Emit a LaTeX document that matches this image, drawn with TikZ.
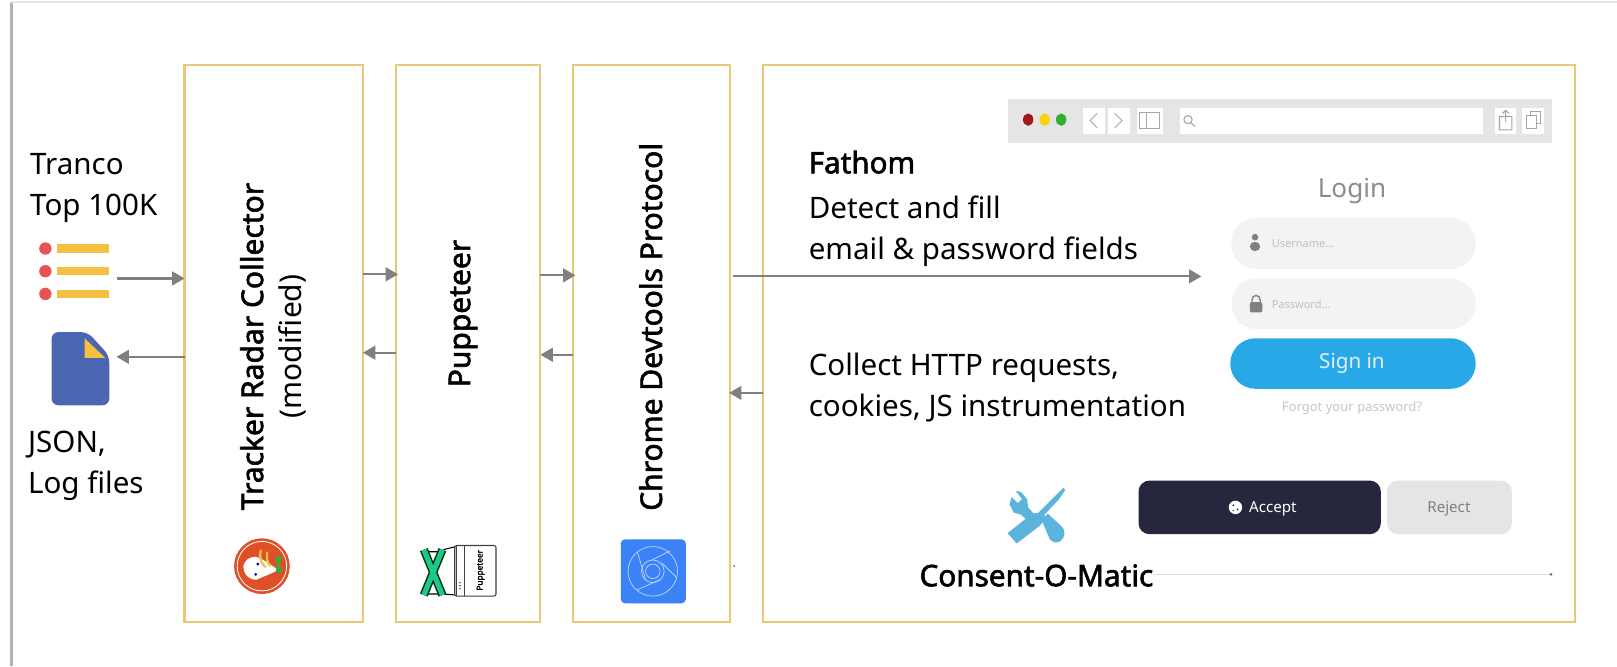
\documentclass[tikz,border=0pt]{standalone}
\usepackage{fontspec}
\setmainfont{Noto Sans}[AutoFakeBold=2]
\usetikzlibrary{arrows.meta,calc}
\definecolor{boxgold}{HTML}{E9C877}
\definecolor{arrowgrey}{HTML}{808080}
\definecolor{barred}{HTML}{E85252}
\definecolor{baryellow}{HTML}{F4C142}
\definecolor{fileblue}{HTML}{4A66B0}
\definecolor{signblue}{HTML}{29A8E8}
\definecolor{navybtn}{HTML}{26273F}
\definecolor{toolblue}{HTML}{5AB4DC}
\definecolor{pillgrey}{HTML}{F3F3F3}
\definecolor{chromeblue}{HTML}{3B82F6}
\definecolor{duckred}{HTML}{DE5028}
\definecolor{pupgreen}{HTML}{1FC790}
\tikzset{
  x=0.75pt,y=-0.75pt,
  stage/.style={draw=boxgold,line width=1.6pt,fill=white,inner sep=0pt,outer sep=0pt},
  flow/.style={draw=arrowgrey,line width=1.6pt,-{Triangle[length=9pt,width=10pt]}},
  body/.style={font=\fontsize{21.5}{30}\selectfont,align=left,inner sep=0pt,anchor=base west,text=black},
  vtitle/.style={font=\fontsize{21.8}{28}\selectfont,rotate=90,align=center,inner sep=0pt},
  pill/.style={rounded corners=24.5*0.75pt,inner sep=0pt,outer sep=0pt},
  btn/.style={rounded corners=8pt,inner sep=0pt,outer sep=0pt},
  uitext/.style={inner sep=0pt},
}
\newcommand{\boxat}[5]{\node[#5,minimum width=#3*0.75pt-#1*0.75pt,minimum height=#4*0.75pt-#2*0.75pt,anchor=north west] at (#1,#2)}
\begin{document}
\begin{tikzpicture}
\useasboundingbox (0,0) rectangle (1568,646);
\fill[white] (0,0) rectangle (1568,646);
% card edge
\fill[black!30] (10,2) rectangle (13,646);
\fill[black!10] (10,1) rectangle (1568,3);

% stages
\boxat{179}{63}{352}{603}{stage} (tracker) {};
\boxat{384}{63}{524}{603}{stage} (pup) {};
\boxat{556}{63}{708}{603}{stage} (cdp) {};
\boxat{740}{63}{1527}{603}{stage} (page) {};

% browser mock-up
\boxat{977}{96}{1505}{138}{fill=black!10,inner sep=0pt} (bar) {};
\boxat{1144}{104}{1438}{130}{fill=white,inner sep=0pt} (addr) {};
\boxat{1050}{104}{1071}{130}{fill=white,inner sep=0pt} (back) {};
\boxat{1074}{104}{1095}{130}{fill=white,inner sep=0pt} (fwd) {};
\boxat{1102}{104}{1127}{130}{fill=white,inner sep=0pt} (side) {};
\boxat{1449}{104}{1470}{130}{fill=white,inner sep=0pt} (share) {};
\boxat{1476}{104}{1497}{130}{fill=white,inner sep=0pt} (tabs) {};
\fill[red!60!black!90] (997,116) circle[x radius=5,y radius=6];
\fill[yellow!70!orange] (1013,116) circle[x radius=5,y radius=6];
\fill[green!60!black!80] (1029,116) circle[x radius=5,y radius=6];
\draw[black!30,line width=0.8pt] (1064,110) -- (1057,117) -- (1064,124);
\draw[black!30,line width=0.8pt] (1081,110) -- (1088,117) -- (1081,124);
\draw[black!35,line width=0.8pt] (1105,109) rectangle (1124,125) (1112,109) -- (1112,125);
\draw[black!35,line width=0.8pt] (1152,116) circle (4) (1155,119) -- (1159,123);
\draw[black!35,line width=0.8pt] (1454,113) rectangle (1466,126) (1460,118) -- (1460,107) (1457,110) -- (1460,107) -- (1463,110);
\draw[black!35,line width=0.8pt] (1480,112) rectangle (1490,125) (1484,112) -- (1484,108) -- (1494,108) -- (1494,120) -- (1490,120);

% login form
\node[uitext,text=black!45,font=\fontsize{19}{22}\selectfont] (login) at (1311,185) {Login};
\boxat{1194}{211}{1431}{261}{pill,fill=pillgrey} (user) {};
\boxat{1194}{270}{1431}{319}{pill,fill=pillgrey} (pass) {};
\boxat{1193}{328}{1431}{377}{pill,fill=signblue} (sign) {};
\node[uitext,anchor=west,text=black!25,font=\fontsize{8}{10}\selectfont] (ulabel) at (1233,236) {Username...};
\node[uitext,anchor=west,text=black!25,font=\fontsize{8}{10}\selectfont] (plabel) at (1233,295) {Password...};
\fill[black!50] (1217,230) circle (3.2);
\fill[black!50] (1217,239) circle[x radius=5,y radius=4.5];
\fill[black!50,rounded corners=1pt] (1212,293) rectangle (1224,303);
\draw[black!50,line width=1pt] (1214,293) -- (1214,291) .. controls (1214,285) and (1222,285) .. (1222,291) -- (1222,293);
\node[uitext,text=white!85!signblue,font=\fontsize{15}{18}\selectfont] (signl) at (1311,352) {Sign in};
\node[uitext,text=black!22,font=\fontsize{9.5}{12}\selectfont] (forgot) at (1311,396) {Forgot your password?};

% consent buttons
\boxat{1104}{466}{1339}{518}{btn,fill=navybtn} (accept) {};
\boxat{1345}{466}{1466}{518}{btn,fill=black!10} (reject) {};
\node[uitext,anchor=west,text=white,font=\fontsize{11}{14}\selectfont] (acceptl) at (1211,493) {Accept};
\fill[white] (1198,492) circle (6.5);
\fill[navybtn] (1196,490) circle (1) (1200,494) circle (1) (1196,495) circle (0.8);
\node[uitext,text=black!50,font=\fontsize{11}{14}\selectfont] (rejectl) at (1405,493) {Reject};
\draw[black!12,line width=1pt] (1118,557) -- (1505,557);
\fill[black!55] (1504,557) circle (1.5);
\fill[black!60] (712,549) circle (1);

% tools icon
\begin{scope}[toolblue]
 \fill (1031,473) -- (1033,475) -- (1027,484) -- (1011,501) -- (1007,497) -- (1024,480) -- cycle;
 \fill (1010,497) -- (1015,502) -- (1008,510) -- (986,527) -- (977,517) -- (1001,498) -- cycle;
 \fill (981,482) -- (979,489) -- (983,497) -- (990,499) -- (999,507) -- (1005,501) -- (997,492) -- (996,484) -- (990,477) -- (985,476) -- (991,484) -- (987,488) -- cycle;
 \fill (1010,504) -- (1016,498) -- (1029,510) .. controls (1034,515) and (1033,521) .. (1028,525) .. controls (1024,527) and (1021,526) .. (1018,523) -- cycle;
\end{scope}
\node[uitext,font=\fontsize{21.6}{24}\selectfont\bfseries] (consent) at (1005,558) {Consent-O-Matic};

% list icon
\foreach \n/\yy in {1/241,2/263,3/285}{
  \fill[barred] (44,\yy) circle (6) coordinate (dot\n);
  \fill[baryellow] (55,\yy-4) rectangle (106,\yy+4);
}
\coordinate (listout) at (113,270);
% file icon
\fill[fileblue,rounded corners=5pt] (50,322) -- (85,322) -- (106,345) -- (106,393) -- (50,393) -- cycle;
\fill[baryellow] (82,328) -- (102,347) -- (82,347) -- cycle;
\coordinate (filein) at (113,346);

% duck logo
\fill[duckred] (254,549) circle (27);
\draw[white,line width=0.6pt] (254,549) circle (24);
\fill[white] (236,549) .. controls (238,541) and (246,538) .. (252,541) -- (262,547) -- (270,553) -- (249,562) .. controls (242,563) and (236,557) .. (236,549) -- cycle;
\draw[baryellow,line width=1.6pt] (253,533) .. controls (251,542) and (254,548) .. (258,550) (259,535) .. controls (258,542) and (260,547) .. (262,549);
\fill[green!60!black!80] (267,540) -- (274,540) -- (271,547) -- (274,555) -- (267,555) -- (269,547) -- cycle;
\fill[blue!60!black] (250,547) circle (1.5) (248,557) circle (1.5);

% puppeteer logo
\draw[black,line width=0.8pt] (413,535) -- (428,535) (413,576) -- (428,576) (430,533) -- (442,530) (430,576) -- (442,577);
\draw[black!80!green,line width=6pt] (411,533) -- (429,577) (429,533) -- (411,577);
\draw[pupgreen,line width=3.8pt] (411,533) -- (429,577) (429,533) -- (411,577);
\draw[black!75,line width=0.8pt,fill=white,rounded corners=1.5pt] (441,529) rectangle (481,578);
\draw[black!75,line width=0.8pt] (450,529) -- (450,578) (443,529) -- (443,578);
\fill[black!75] (446,565) circle (0.8) (446,568) circle (0.8) (446,571) circle (0.8);
\node[uitext,rotate=90,font=\fontsize{6}{7}\selectfont\bfseries] (puplogo) at (466,553) {Puppeteer};

% chrome logo
\fill[chromeblue,rounded corners=3pt] (602,523) rectangle (665,585);
\begin{scope}[white!65!chromeblue,line width=0.55pt]
 \draw (633,554) circle (24);
 \draw (633,554) circle (11) (633,554) circle (7);
 \draw (618,535) -- (626,562) (642,546) -- (656,560) (640,562) -- (618,572) (632,543) -- (650,534);
\end{scope}

% texts
\node[body] (tranco) at (29,209) {Tranco\\Top 100K};
\node[body] (json) at (27,479) {JSON,\\Log files};
\node[vtitle] (trackerl) at (265,336) {\textbf{Tracker Radar Collector}\\(modified)};
\node[vtitle] (pupl) at (449,304) {\textbf{Puppeteer}};
\node[vtitle] (cdpl) at (631,317) {\textbf{Chrome Devtools Protocol}};
\node[body,font=\fontsize{21.5}{24}\selectfont\bfseries] (fathom) at (784,168) {Fathom};
\node[body] (detect) at (784,252) {Detect and fill\\email \& password fields};
\node[body] (collect) at (784,404) {Collect HTTP requests,\\cookies, JS instrumentation};

% connectors
\coordinate (p1) at (352,266);
\coordinate (p2) at (352,342);
\coordinate (p3) at (524,267);
\coordinate (p4) at (524,344);
\coordinate (p5) at (711,268);
\coordinate (p6) at (1165,268);
\coordinate (p7) at (740,381);
\coordinate (p8) at (707,381);
\draw[flow] (listout) -- (tracker.west |- listout);
\draw[flow] (tracker.west |- filein) -- (filein);
\draw[flow,shorten >=-1.5pt] (p1) -- (pup.west |- p1);
\draw[flow] (pup.west |- p2) -- (p2);
\draw[flow,shorten >=-1.5pt] (p3) -- (cdp.west |- p3);
\draw[flow] (cdp.west |- p4) -- (p4);
\draw[flow] (p5) -- (p6);
\draw[flow] (p7) -- (p8);
\end{tikzpicture}
\end{document}
